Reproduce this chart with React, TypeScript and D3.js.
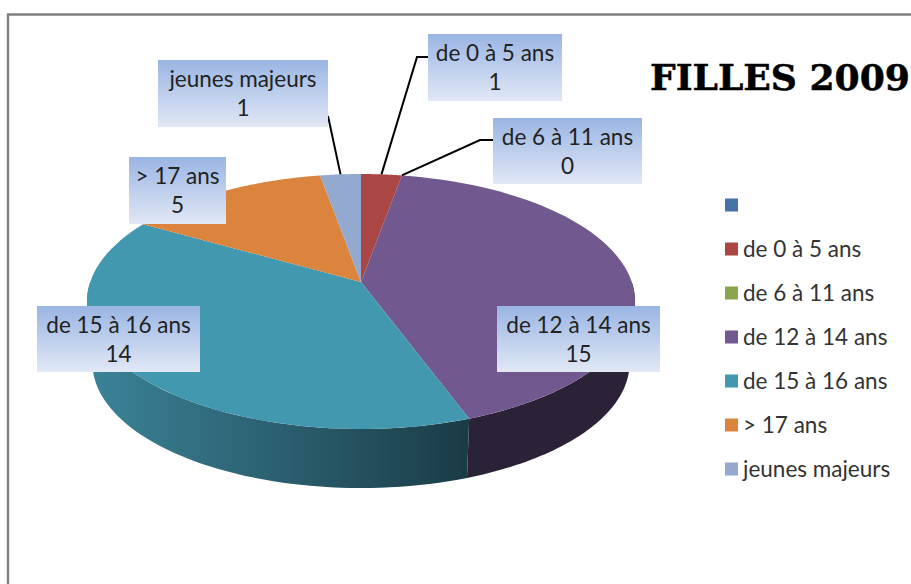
import React from "react";
import * as d3 from "d3";

const categories = ["de 0 à 5 ans", "de 6 à 11 ans", "de 12 à 14 ans", "de 15 à 16 ans", "> 17 ans", "jeunes majeurs"];
const values = [1, 0, 15, 14, 5, 1];
const sliceColors = ["#aa4643", "#89a54e", "#71588f", "#4198af", "#db843d", "#93a9cf"];
const sideColors = ["#551f1e", "#44522a", "#2c2238", "url(#tealSide)", "#6d421e", "#495467"];
const legendLabels = ["", ...categories];
const legendColors = ["#4572a7", ...sliceColors];
const title = "FILLES 2009";

const W = 911, H = 584;
const cx = 361, cy = 282, R = 270.8, B = 124.5, K = -0.153, depth = 62, baseScale = 0.98;

const pie = d3.pie<number>().sort(null).value((d) => d);
const arcs = pie(values);

const project = (a: number, off = 0, s = 1): [number, number] => {
  const u = Math.sin(a), v = -Math.cos(a), w = 1 + K * v;
  return [cx + (s * R * u) / w, cy + off + (s * B * v) / w];
};
const sample = (a0: number, a1: number, off = 0, s = 1) =>
  d3.range(0, 61).map((i) => project(a0 + ((a1 - a0) * i) / 60, off, s));
const line = d3.line();

// Boxes and leaders follow the data labels of the reference
const labelBoxes = [
  { i: 0, x: 428, y: 34, w: 134, h: 67 },
  { i: 1, x: 493, y: 118, w: 149, h: 66 },
  { i: 2, x: 497, y: 306, w: 163, h: 66 },
  { i: 3, x: 37, y: 306, w: 163, h: 66 },
  { i: 4, x: 129, y: 157, w: 97, h: 67 },
  { i: 5, x: 158, y: 60, w: 170, h: 67 },
];
const leaderElbows: Record<number, [number, number][]> = {
  0: [[428, 57], [417, 57]],
  1: [[493, 140], [480, 140]],
  5: [[328, 116]],
};

const legendY = d3.scalePoint<number>().domain(d3.range(7)).range([205, 469]);
const FONT = "Lato, 'Noto Sans', sans-serif";

export default function App() {
  const front = (from: number, to: number) => {
    const top = sample(from, to);
    const bottom = sample(to, from, depth, baseScale);
    return line([...top, ...bottom])! + "Z";
  };
  return (
    <svg width={W} height={H} style={{ position: "absolute", left: 0, top: 0, background: "#fff" }}>
      <defs>
        <linearGradient id="tealSide" gradientUnits="userSpaceOnUse" x1={90} x2={472} y1={0} y2={0}>
          <stop offset="0" stopColor="#3b8398" />
          <stop offset="1" stopColor="#1a3b45" />
        </linearGradient>
        <linearGradient id="boxFill" x1={0} x2={0} y1={0} y2={1}>
          <stop offset="0" stopColor="#9ab5e3" />
          <stop offset="1" stopColor="#e1e8f6" />
        </linearGradient>
      </defs>
      <path d={`M8 584V14.5H911`} fill="none" stroke="#808080" strokeWidth={2.4} />

      {/* side walls: only the near half of the disc shows */}
      <path d={front(Math.PI / 2, arcs[2].endAngle)} fill={sideColors[2]} />
      <path d={front(arcs[3].startAngle, (3 * Math.PI) / 2)} fill={sideColors[3]} />

      {/* top face */}
      {arcs.map((d, i) =>
        d.endAngle > d.startAngle ? (
          <path
            key={i}
            d={line([[cx, cy], ...sample(d.startAngle, d.endAngle)])! + "Z"}
            fill={sliceColors[i]}
          />
        ) : null
      )}

      {/* leaders */}
      {labelBoxes.map((b) => {
        const pts = leaderElbows[b.i];
        if (!pts) return null;
        const a = arcs[b.i];
        const end = project(b.i === 1 ? a.startAngle : (a.startAngle + a.endAngle) / 2);
        return (
          <path key={b.i} d={line([...pts, end])!} fill="none" stroke="#000" strokeWidth={2} />
        );
      })}

      {/* data labels */}
      {labelBoxes.map((b) => (
        <g key={b.i}>
          <rect x={b.x} y={b.y} width={b.w} height={b.h} fill="url(#boxFill)" />
          <text x={b.x + b.w / 2} y={b.y + 27} textAnchor="middle" fontFamily={FONT} fontSize={22.5} fill="#222">
            {categories[b.i]}
          </text>
          <text x={b.x + b.w / 2} y={b.y + 56} textAnchor="middle" fontFamily={FONT} fontSize={22.5} fill="#222">
            {values[b.i]}
          </text>
        </g>
      ))}

      <text x={650} y={90} fontFamily="'DejaVu Serif', serif" fontWeight="bold" fontSize={35} stroke="#000" strokeWidth={0.5} fill="#000" textLength={260} lengthAdjust="spacingAndGlyphs">
        {title}
      </text>

      {/* legend */}
      {legendLabels.map((l, i) => (
        <g key={i}>
          <rect x={725} y={legendY(i)! - 6.5} width={13} height={13} fill={legendColors[i]} />
          <text x={743} y={legendY(i)! + 8} fontFamily={FONT} fontSize={22.5} fill="#333">
            {l}
          </text>
        </g>
      ))}
    </svg>
  );
}
